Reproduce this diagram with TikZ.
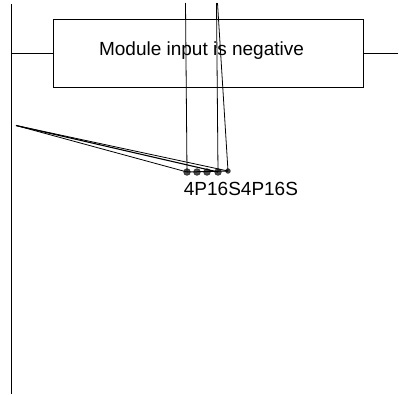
\documentclass[tikz,border=0pt]{standalone}
\usepackage{fontspec}
\setmainfont{Liberation Sans}
\usepackage{tikz}

\begin{document}
\begin{tikzpicture}[x=1pt,y=-1pt,line width=0.8pt,
  pin/.style={circle,fill=black!70,draw=black!80,inner sep=0pt,minimum size=6.5pt},
  smallpin/.style={pin,minimum size=4.5pt}]

\useasboundingbox (0,0) rectangle (399,394);

\node[draw,minimum width=310pt,minimum height=68pt,inner sep=0pt] (box) at (208,53) {};
\node[font=\fontsize{19}{19}\selectfont,inner sep=0pt] (msg) at (201.5,51) {Module input is negative};

\coordinate (railtop) at (11,4);
\coordinate (railbot) at (11,394);
\coordinate (railtap) at (11,53);
\coordinate (rightend) at (398,53);
\coordinate (wire) at (16,125.5);
\coordinate (topa) at (185.5,3);
\coordinate (topb) at (216.5,3);
\coordinate (topc) at (217.5,3);

\node[pin] (d1) at (187,172) {};
\node[pin] (d2) at (197,172) {};
\node[pin] (d3) at (207,172) {};
\node[pin] (d4) at (218,172) {};
\node[smallpin] (d5) at (228,171) {};

\node[font=\fontsize{19}{19}\selectfont,inner sep=0pt,anchor=base west] (lbl) at (183.5,195) {4P16S4P16S};

\draw (railtop) -- (railbot);
\draw (railtap) -- (box.west);
\draw (box.east) -- (rightend);
\draw (topa) -- (d1.center);
\draw (topb) -- (d4.center);
\draw (topc) -- (d5.center);
\draw[line width=1pt] (d1.center) -- (d5.center);
\draw (wire) -- (d1.center);
\draw[line width=1.1pt] (wire) -- (d4.center);
\draw (wire) -- (d5.center);

\end{tikzpicture}
\end{document}
